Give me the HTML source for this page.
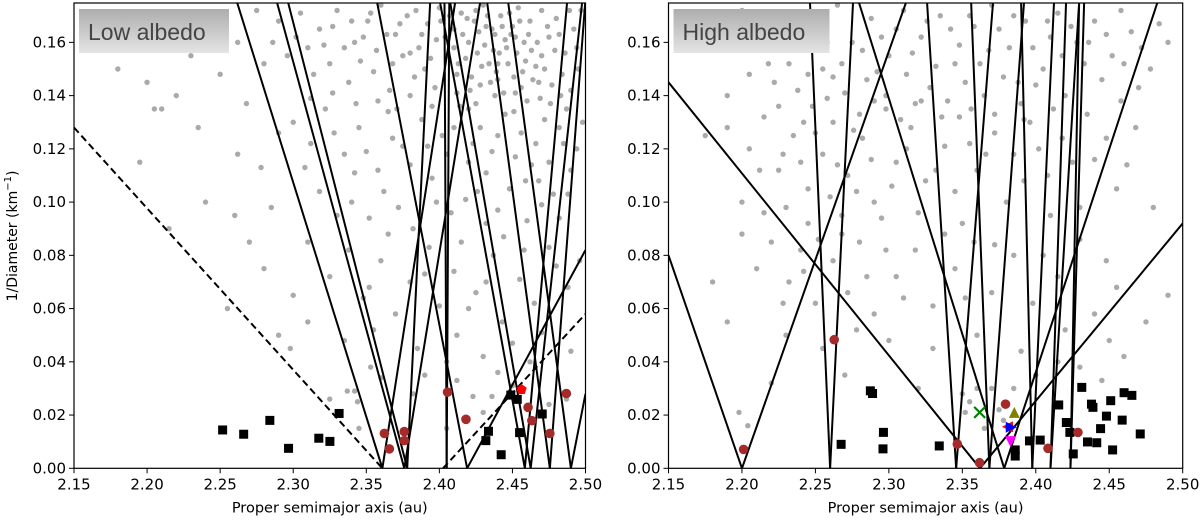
<!DOCTYPE html>
<html><head><meta charset="utf-8">
<style>
body{margin:0;background:#fff;}
svg{display:block;font-family:"DejaVu Sans","Liberation Sans",sans-serif;}
</style></head>
<body>
<svg id="chart" width="1200" height="520" viewBox="0 0 1200 520" xmlns="http://www.w3.org/2000/svg">
<defs>
<linearGradient id="lbg" x1="0" y1="0" x2="0" y2="1"><stop offset="0" stop-color="#adadad"/><stop offset="1" stop-color="#e4e4e4"/></linearGradient>
<clipPath id="clipL"><rect x="74" y="3" width="511.5" height="465.3"/></clipPath>
<clipPath id="clipR"><rect x="668.5" y="3" width="514.2" height="465.3"/></clipPath>
</defs>
<g id="panelL"></g>
<g id="panelR"></g>
<text transform="translate(17,236) rotate(-90)" text-anchor="middle" font-size="14">1/Diameter (km<tspan font-size="10" dy="-6">−1</tspan><tspan dy="6">)</tspan></text>
</svg>
<script>
// ---- data ----
const xTicks=[2.15,2.20,2.25,2.30,2.35,2.40,2.45,2.50];
const xTickLabels=["2.15","2.20","2.25","2.30","2.35","2.40","2.45","2.50"];
const yTicks=[0,0.02,0.04,0.06,0.08,0.10,0.12,0.14,0.16];
const yTickLabels=["0.00","0.02","0.04","0.06","0.08","0.10","0.12","0.14","0.16"];

const grayL=[[2.305,.171],[2.318,.165],[2.33,.172],[2.342,.16],[2.351,.168],[2.36,.174],[2.37,.163],[2.378,.17],[2.386,.158],[2.392,.167],[2.40,.173],[2.405,.155],[2.41,.165],[2.415,.171],[2.42,.16],[2.424,.168],[2.43,.174],[2.434,.152],[2.438,.163],[2.442,.17],[2.446,.158],[2.45,.166],[2.454,.173],[2.458,.16],[2.462,.168],[2.466,.151],[2.47,.172],[2.475,.162],[2.48,.169],[2.486,.156],[2.492,.165],[2.497,.172],[2.325,.152],[2.338,.145],[2.355,.149],[2.366,.142],[2.383,.147],[2.397,.143],[2.412,.148],[2.428,.144],[2.44,.146],[2.452,.141],[2.468,.145],[2.483,.14],[2.495,.15],[2.31,.158],[2.29,.168],[2.275,.172],[2.262,.16],[2.28,.152],
[2.425,.172],[2.432,.166],[2.445,.161],[2.418,.154],[2.448,.171],[2.437,.157],[2.457,.149],[2.41,.158],[2.44,.152],[2.463,.157],[2.452,.162],[2.398,.161],[2.375,.155],[2.346,.153],[2.422,.147],[2.47,.155],[2.38,.14],[2.46,.138],[2.42,.135],[2.39,.15],
[2.401,.168],[2.404,.162],[2.407,.17],[2.413,.152],[2.416,.163],[2.419,.169],[2.421,.142],[2.426,.156],[2.427,.164],[2.429,.151],[2.431,.159],[2.433,.17],[2.435,.145],[2.436,.165],[2.439,.149],[2.441,.156],[2.443,.166],[2.444,.141],[2.447,.152],[2.449,.163],[2.451,.147],[2.453,.156],[2.455,.168],[2.456,.143],[2.459,.153],[2.461,.163],[2.464,.146],[2.467,.16],[2.469,.139],[2.472,.15],[2.474,.166],[2.477,.144],[2.479,.157],[2.482,.163],[2.484,.148],[2.487,.135],[2.489,.172],[2.494,.158],[2.394,.154],[2.388,.163],[2.384,.172],[2.38,.156],[2.373,.167],[2.368,.152],[2.364,.163],[2.357,.157],[2.353,.171],[2.348,.162],[2.34,.168],[2.335,.158],[2.327,.166],[2.321,.159],[2.314,.148],[2.302,.162],[2.296,.155],[2.286,.16],[2.412,.141],[2.425,.137],[2.438,.14],[2.451,.134],[2.476,.137],[2.49,.142],[2.395,.136],[2.371,.135],[2.358,.138],[2.343,.137],[2.327,.141],[2.312,.139],
[2.30,.13],[2.312,.122],[2.322,.135],[2.335,.118],[2.345,.128],[2.358,.112],[2.365,.134],[2.375,.121],[2.388,.131],[2.395,.109],[2.402,.125],[2.414,.136],[2.42,.115],[2.428,.128],[2.436,.119],[2.445,.133],[2.448,.105],[2.456,.126],[2.463,.114],[2.472,.131],[2.478,.103],[2.485,.122],[2.49,.112],[2.498,.13],[2.34,.1],[2.352,.094],[2.372,.098],[2.382,.09],[2.408,.096],[2.418,.101],[2.432,.092],[2.44,.097],[2.46,.093],[2.47,.099],[2.482,.094],[2.318,.104],[2.33,.095],[2.29,.126],[2.278,.113],[2.268,.137],
[2.405,.118],[2.41,.128],[2.423,.122],[2.432,.111],[2.44,.125],[2.452,.117],[2.459,.108],[2.466,.122],[2.475,.115],[2.482,.128],[2.494,.12],[2.392,.121],[2.38,.114],[2.368,.124],[2.35,.119],[2.328,.126],[2.308,.113],[2.398,.1],[2.426,.104],[2.444,.087],[2.468,.108],[2.488,.103],[2.362,.104],[2.342,.111],
[2.31,.085],[2.325,.072],[2.338,.082],[2.348,.064],[2.36,.078],[2.37,.058],[2.38,.07],[2.393,.083],[2.40,.061],[2.41,.074],[2.425,.066],[2.437,.08],[2.443,.055],[2.455,.071],[2.465,.062],[2.475,.083],[2.488,.068],[2.496,.078],[2.335,.048],[2.355,.052],[2.385,.045],[2.412,.05],[2.43,.042],[2.45,.047],[2.47,.051],[2.49,.044],[2.3,.065],[2.31,.055],
[2.365,.088],[2.39,.073],[2.415,.085],[2.432,.07],[2.458,.082],[2.48,.076],[2.352,.068],[2.405,.04],[2.462,.04],[2.42,.06],
[2.337,.029],[2.342,.029],[2.344,.025],[2.353,.038],[2.36,.034],[2.382,.028],[2.39,.035],[2.405,.015],[2.412,.033],[2.423,.027],[2.43,.021],[2.436,.027],[2.44,.036],[2.45,.031],[2.475,.024],[2.487,.026],[2.325,.026],[2.345,.015],
[2.18,.15],[2.195,.115],[2.2,.145],[2.205,.135],[2.21,.135],[2.22,.14],[2.235,.128],[2.25,.148],[2.24,.1],[2.26,.095],[2.27,.085],[2.28,.075],[2.255,.06],[2.29,.05],[2.298,.045],[2.23,.155],[2.245,.165],[2.262,.118],[2.215,.09],[2.285,.098]];

const grayR=[[2.185,.168],[2.2,.172],[2.215,.163],[2.228,.17],[2.24,.158],[2.252,.168],[2.265,.174],[2.275,.16],[2.288,.169],[2.3,.155],[2.31,.172],[2.322,.162],[2.335,.17],[2.345,.152],[2.358,.166],[2.37,.174],[2.382,.158],[2.393,.168],[2.405,.15],[2.415,.171],[2.428,.16],[2.44,.168],[2.452,.155],[2.465,.164],[2.478,.15],[2.49,.16],[2.205,.148],[2.222,.145],[2.238,.142],[2.255,.15],[2.27,.141],[2.285,.146],[2.298,.14],[2.312,.148],[2.328,.143],[2.34,.138],[2.352,.145],[2.365,.14],[2.378,.147],[2.39,.137],[2.4,.144],[2.42,.14],[2.445,.146],[2.47,.143],[2.19,.14],[2.178,.158],
[2.232,.152],[2.248,.136],[2.262,.147],[2.28,.133],[2.295,.162],[2.318,.137],[2.342,.165],[2.362,.152],[2.388,.145],[2.41,.162],[2.433,.152],[2.458,.172],
[2.208,.158],[2.218,.152],[2.235,.165],[2.245,.148],[2.258,.16],[2.268,.152],[2.282,.157],[2.292,.149],[2.305,.165],[2.316,.156],[2.326,.168],[2.332,.151],[2.348,.159],[2.355,.17],[2.368,.157],[2.375,.165],[2.385,.17],[2.398,.158],[2.408,.168],[2.418,.155],[2.424,.166],[2.436,.16],[2.448,.163],[2.46,.152],[2.472,.158],[2.484,.167],[2.225,.136],[2.242,.13],[2.258,.139],[2.276,.127],[2.29,.138],[2.308,.131],[2.322,.138],[2.336,.132],[2.356,.135],[2.372,.133],[2.392,.131],[2.412,.135],[2.435,.133],[2.458,.138],
[2.175,.125],[2.19,.128],[2.205,.12],[2.215,.132],[2.225,.112],[2.235,.125],[2.245,.105],[2.255,.118],[2.262,.13],[2.272,.11],[2.282,.124],[2.29,.1],[2.298,.135],[2.305,.115],[2.315,.128],[2.325,.108],[2.338,.121],[2.348,.132],[2.36,.112],[2.372,.126],[2.385,.118],[2.396,.13],[2.408,.11],[2.418,.124],[2.43,.098],[2.44,.116],[2.455,.105],[2.468,.128],[2.48,.098],[2.245,.092],[2.268,.095],[2.295,.094],[2.32,.096],[2.35,.092],[2.38,.1],[2.41,.095],[2.2,.1],[2.215,.096],[2.23,.098],[2.26,.102],
[2.212,.112],[2.228,.118],[2.24,.115],[2.25,.126],[2.265,.114],[2.278,.104],[2.288,.116],[2.302,.106],[2.312,.12],[2.332,.112],[2.345,.104],[2.355,.122],[2.366,.118],[2.392,.108],[2.402,.12],[2.425,.115],[2.448,.124],[2.462,.114],
[2.2,.088],[2.21,.075],[2.22,.085],[2.232,.07],[2.24,.082],[2.25,.062],[2.262,.078],[2.272,.066],[2.28,.085],[2.29,.058],[2.305,.072],[2.318,.082],[2.33,.061],[2.345,.075],[2.358,.085],[2.37,.066],[2.385,.08],[2.398,.062],[2.415,.072],[2.43,.086],[2.44,.058],[2.455,.068],[2.475,.055],[2.49,.065],[2.23,.05],[2.255,.045],[2.278,.052],[2.3,.048],[2.33,.045],[2.36,.05],[2.39,.044],[2.42,.052],[2.45,.048],[2.18,.07],[2.19,.055],
[2.228,.062],[2.242,.074],[2.252,.086],[2.268,.088],[2.285,.072],[2.298,.082],[2.31,.064],[2.338,.088],[2.352,.064],[2.372,.084],[2.405,.08],[2.448,.078],
[2.198,.021],[2.204,.016],[2.22,.032],[2.27,.035],[2.32,.03],[2.35,.028],[2.352,.021],[2.355,.025],[2.36,.03],[2.37,.03],[2.375,.022],[2.378,.018],[2.385,.03],[2.365,.015],[2.4,.035],[2.415,.04],[2.43,.038],[2.46,.042],[2.445,.033]];

const linesL=[[2.361,0,2.2616,.175],[2.361,0,2.4108,.175],[2.376,0,2.2889,.175],[2.376,0,2.4279,.175],[2.378,0,2.2965,.175],[2.378,0,2.3937,.175],[2.405,0,2.4035,.175],[2.405,0,2.4068,.175],[2.419,0,2.3574,.175],[2.419,0,2.50,.082],[2.4585,0,2.4005,.175],[2.4585,0,2.4874,.175],[2.4625,0,2.4074,.175],[2.4625,0,2.4977,.175],[2.4756,0,2.4327,.175],[2.4756,0,2.4998,.175],[2.49,0,2.4471,.175],[2.49,0,2.50,.028]];
const dashedL=[[2.15,.128,2.361,0],[2.4025,0,2.50,.058]];
const linesR=[[2.15,.145,2.362,0],[2.362,0,2.50,.092],[2.15,.08,2.20,0],[2.20,0,2.3117,.175],[2.26,0,2.2463,.175],[2.26,0,2.2756,.175],[2.2796,.175,2.3785,0],[2.3785,0,2.4828,.175],[2.326,.175,2.3458,0],[2.3458,0,2.3709,.175],[2.3684,0,2.356,.175],[2.3684,0,2.392,.175],[2.3976,0,2.39,.175],[2.3976,0,2.4124,.175],[2.41,0,2.4206,.175],[2.41,0,2.4295,.175],[2.4236,0,2.4295,.175],[2.4236,0,2.4329,.175]];

const sqL=[[2.2517,.0144],[2.2661,.0128],[2.284,.018],[2.2968,.0075],[2.3175,.0113],[2.3251,.0101],[2.3314,.0206],[2.4318,.0104],[2.4336,.0139],[2.4423,.0051],[2.4489,.0275],[2.4533,.0259],[2.4549,.0134],[2.4704,.0204]];
const redL=[[2.3624,.0131],[2.3658,.0073],[2.376,.0138],[2.376,.0104],[2.4056,.0286],[2.4182,.0184],[2.4607,.0229],[2.4633,.0179],[2.4756,.0131],[2.4869,.0281]];
const pentL=[[2.4562,.0296]];
const sqR=[[2.2675,.009],[2.2874,.0291],[2.2889,.0281],[2.2963,.0135],[2.296,.0073],[2.3343,.0084],[2.4156,.0238],[2.4208,.0172],[2.4232,.0135],[2.4255,.0054],[2.4313,.0304],[2.4352,.0099],[2.4379,.0241],[2.4389,.0229],[2.4415,.0096],[2.4441,.0149],[2.4481,.0196],[2.451,.0254],[2.4523,.0069],[2.4588,.0181],[2.4601,.0284],[2.4654,.0274],[2.4711,.0129],[2.386,.0069],[2.386,.0046],[2.3957,.0103],[2.403,.0106]];
const redR=[[2.2011,.0071],[2.2628,.0483],[2.3466,.0091],[2.3617,.0021],[2.3794,.0241],[2.4083,.0075],[2.4287,.0135]];
const specialX=[2.3618,2.3854,2.3807,2.3833,2.3828];
const specialY=[.021,.021,.0156,.0154,.01];
const specialKinds=["cross","tri-up","tri-left","tri-right","tri-down"];

// ---- drawing ----
const NS="http://www.w3.org/2000/svg";
function mk(tag,attrs,parent){const e=document.createElementNS(NS,tag);for(const k in attrs)e.setAttribute(k,attrs[k]);parent.appendChild(e);return e;}
const Y0=468.3, YS=2662;
function yScale(v){return Y0-v*YS;}
function makeX(x0,x1){return v=>x0+(v-2.15)/0.35*(x1-x0);}

function panel(gid,x0,x1,clip,gray,lines,dashed,squares,reds,title,boxW){
  const g=document.getElementById(gid);
  const xs=makeX(x0,x1);
  const plot=mk('g',{'clip-path':'url(#'+clip+')'},g);
  
  
  gray.forEach(p=>{const c=mk('circle',{cx:xs(p[0]),cy:yScale(p[1]),r:2.7,fill:'#aaaaaa'},plot);
    
    });
  lines.forEach(l=>{const e=mk('line',{x1:xs(l[0]),y1:yScale(l[1]),x2:xs(l[2]),y2:yScale(l[3]),stroke:'#000','stroke-width':2},plot);
    
    });
  dashed.forEach(l=>{const e=mk('line',{x1:xs(l[0]),y1:yScale(l[1]),x2:xs(l[2]),y2:yScale(l[3]),stroke:'#000','stroke-width':2,'stroke-dasharray':'7,4'},plot);
    
    });
  squares.forEach(p=>{const e=mk('rect',{x:xs(p[0])-4.5,y:yScale(p[1])-4.5,width:9,height:9,fill:'#000'},plot);
    
    });
  reds.forEach(p=>{const e=mk('circle',{cx:xs(p[0]),cy:yScale(p[1]),r:4.8,fill:'#a52a2a'},plot);
    
    });
  const fr=mk('rect',{x:x0,y:3,width:x1-x0,height:Y0-3,fill:'none',stroke:'#000','stroke-width':1.2},g);
  
  
  xTicks.forEach((t,i)=>{const x=xs(t);
    mk('line',{x1:x,y1:Y0,x2:x,y2:Y0+5,stroke:'#000','stroke-width':1},g);
    const tx=mk('text',{x:x,y:Y0+21,'text-anchor':'middle','font-size':15},g);tx.textContent=xTickLabels[i];
    
    });
  yTicks.forEach((t,i)=>{const y=yScale(t);
    mk('line',{x1:x0-5,y1:y,x2:x0,y2:y,stroke:'#000','stroke-width':1},g);
    const tx=mk('text',{x:x0-8,y:y+5,'text-anchor':'end','font-size':15},g);tx.textContent=yTickLabels[i];
    
    });
  const xt=mk('text',{x:(x0+x1)/2,y:Y0+44,'text-anchor':'middle','font-size':14.5},g);
  xt.textContent='Proper semimajor axis (au)';
  
  
  const bx=mk('rect',{x:x0+5,y:9,width:boxW,height:44,fill:'url(#lbg)'},g);
  
  
  const lt=mk('text',{x:x0+14,y:40,'font-size':23,fill:'#444','font-family':'Liberation Sans, sans-serif'},g);
  lt.textContent=title;
  
  
  return {g,xs,plot};
}
const L=panel('panelL',74,585.5,'clipL',grayL,linesL,dashedL,sqL,redL,'Low albedo',150);
pentL.forEach(p=>{const cx=L.xs(p[0]),cy=yScale(p[1]),r=5.5;let pts=[];
  for(let k=0;k<5;k++){const a=-Math.PI/2+k*2*Math.PI/5;pts.push((cx+r*Math.cos(a)).toFixed(1)+','+(cy+r*Math.sin(a)).toFixed(1));}
  const e=mk('polygon',{points:pts.join(' '),fill:'#ff0000'},L.plot);
  
  });
const R=panel('panelR',668.5,1182.7,'clipR',grayR,linesR,[],sqR,redR,'High albedo',156);
specialX.forEach((sx,i)=>{const cx=R.xs(sx),cy=yScale(specialY[i]),s=5.5;let e;
  const k=specialKinds[i];
  if(k==='cross'){e=mk('path',{d:`M${cx-s},${cy-s}L${cx+s},${cy+s}M${cx-s},${cy+s}L${cx+s},${cy-s}`,stroke:'#008000','stroke-width':2.2,fill:'none'},R.plot);}
  else if(k==='tri-up'){e=mk('polygon',{points:`${cx},${cy-s} ${cx-s},${cy+s} ${cx+s},${cy+s}`,fill:'#808000'},R.plot);}
  else if(k==='tri-left'){e=mk('polygon',{points:`${cx-s},${cy} ${cx+s},${cy-s} ${cx+s},${cy+s}`,fill:'#ff0000'},R.plot);}
  else if(k==='tri-right'){e=mk('polygon',{points:`${cx+s},${cy} ${cx-s},${cy-s} ${cx-s},${cy+s}`,fill:'#0000ff'},R.plot);}
  else {e=mk('polygon',{points:`${cx},${cy+s} ${cx-s},${cy-s} ${cx+s},${cy-s}`,fill:'#ff00ff'},R.plot);}
  
  });
</script>
</body></html>
